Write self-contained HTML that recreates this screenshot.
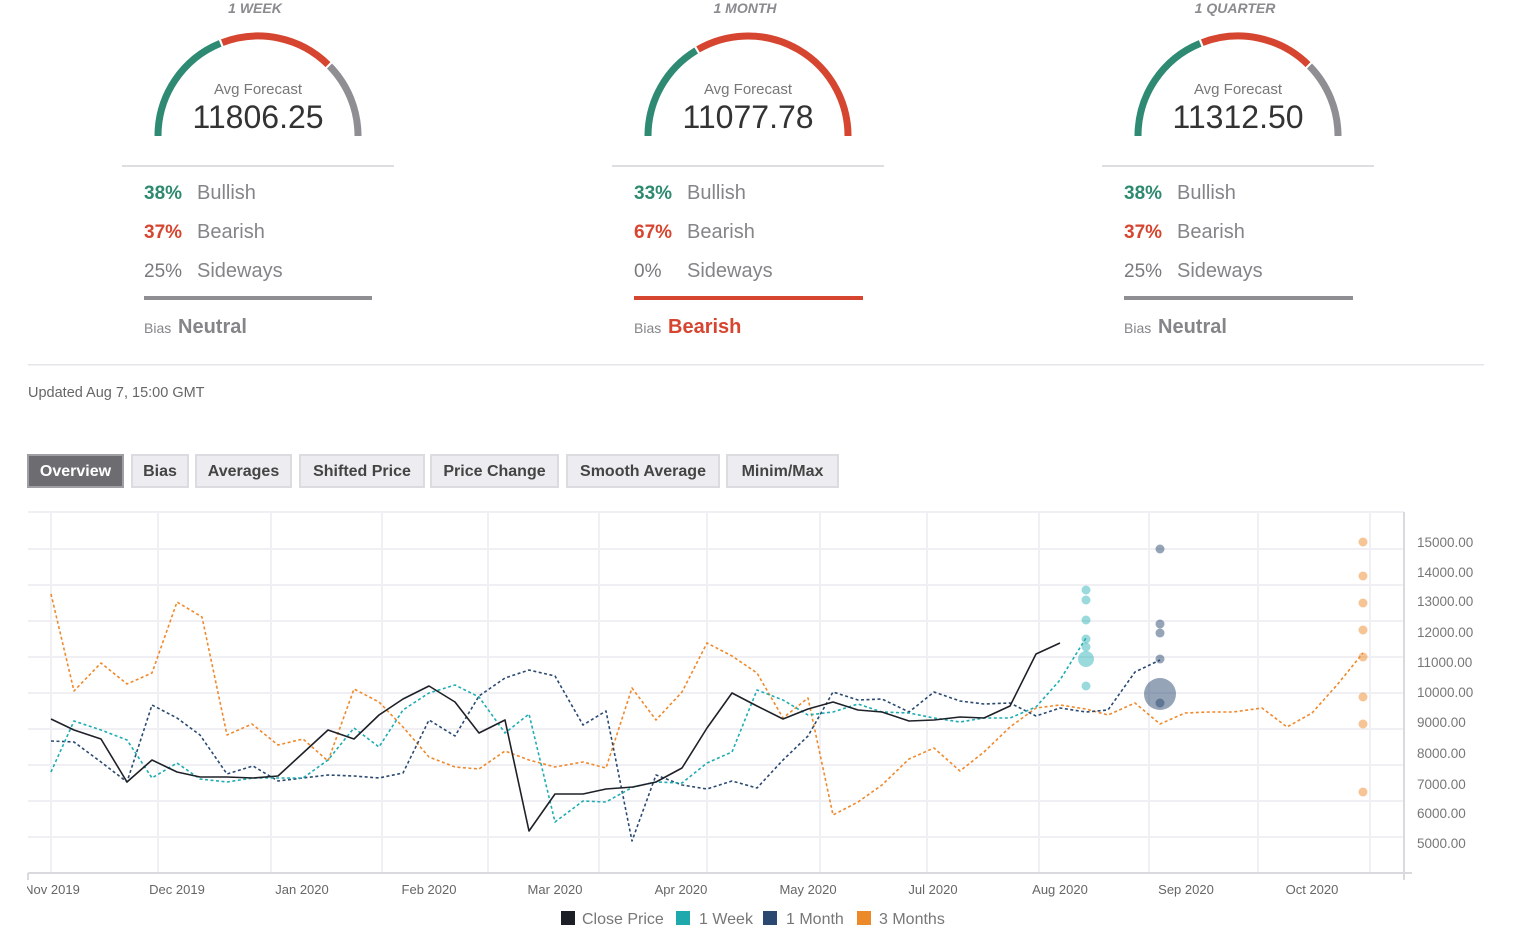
<!DOCTYPE html>
<html><head><meta charset="utf-8"><style>
html,body{margin:0;padding:0;background:#fff;}
body{width:1536px;height:935px;overflow:hidden;position:relative;font-family:"Liberation Sans",Arial,sans-serif;}
svg{position:absolute;left:0;top:0;}
text{font-family:"Liberation Sans",Arial,sans-serif;}
</style></head><body>
<svg width="1536" height="935" viewBox="0 0 1536 935" xmlns="http://www.w3.org/2000/svg">
<defs><clipPath id="lc"><rect x="27" y="870" width="1500" height="40"/></clipPath></defs>

<!-- ===== Gauge 1 WEEK ===== -->
<g>
<text x="255" y="13" text-anchor="middle" font-size="14" font-weight="bold" font-style="italic" fill="#8a8a8f">1 WEEK</text>
<path d="M158 136 A100 100 0 0 1 220.2 43.4" fill="none" stroke="#2e8a72" stroke-width="7"/>
<path d="M222.2 42.6 A100 100 0 0 1 328 64.6" fill="none" stroke="#d6452f" stroke-width="7"/>
<path d="M329.5 66 A100 100 0 0 1 358 136" fill="none" stroke="#8e8e93" stroke-width="7"/>
<text x="258" y="94" text-anchor="middle" font-size="15" fill="#777">Avg Forecast</text>
<text x="258" y="128" text-anchor="middle" font-size="32" fill="#333">11806.25</text>
<rect x="122" y="165" width="272" height="2" fill="#dedee2"/>
<text x="144" y="199" font-size="19" font-weight="bold" fill="#2e8a6e">38%</text>
<text x="197" y="199" font-size="20" fill="#858589">Bullish</text>
<text x="144" y="238" font-size="19" font-weight="bold" fill="#d6452f">37%</text>
<text x="197" y="238" font-size="20" fill="#858589">Bearish</text>
<text x="144" y="277" font-size="19" fill="#7a7a7e">25%</text>
<text x="197" y="277" font-size="20" fill="#858589">Sideways</text>
<rect x="144" y="296" width="228" height="4" fill="#8e8e93"/>
<text x="144" y="333" font-size="14" fill="#858589">Bias</text>
<text x="178" y="333" font-size="20" font-weight="bold" fill="#858589">Neutral</text>
</g>

<!-- ===== Gauge 1 MONTH ===== -->
<g>
<text x="745" y="13" text-anchor="middle" font-size="14" font-weight="bold" font-style="italic" fill="#8a8a8f">1 MONTH</text>
<path d="M648 136 A100 100 0 0 1 696.2 50.5" fill="none" stroke="#2e8a72" stroke-width="7"/>
<path d="M698 49.4 A100 100 0 0 1 848 136" fill="none" stroke="#d6452f" stroke-width="7"/>
<text x="748" y="94" text-anchor="middle" font-size="15" fill="#777">Avg Forecast</text>
<text x="748" y="128" text-anchor="middle" font-size="32" fill="#333">11077.78</text>
<rect x="612" y="165" width="272" height="2" fill="#dedee2"/>
<text x="634" y="199" font-size="19" font-weight="bold" fill="#2e8a6e">33%</text>
<text x="687" y="199" font-size="20" fill="#858589">Bullish</text>
<text x="634" y="238" font-size="19" font-weight="bold" fill="#d6452f">67%</text>
<text x="687" y="238" font-size="20" fill="#858589">Bearish</text>
<text x="634" y="277" font-size="19" fill="#7a7a7e">0%</text>
<text x="687" y="277" font-size="20" fill="#858589">Sideways</text>
<rect x="634" y="296" width="229" height="4" fill="#d6452f"/>
<text x="634" y="333" font-size="14" fill="#858589">Bias</text>
<text x="668" y="333" font-size="20" font-weight="bold" fill="#d6452f">Bearish</text>
</g>

<!-- ===== Gauge 1 QUARTER ===== -->
<g>
<text x="1235" y="13" text-anchor="middle" font-size="14" font-weight="bold" font-style="italic" fill="#8a8a8f">1 QUARTER</text>
<path d="M1138 136 A100 100 0 0 1 1200.2 43.4" fill="none" stroke="#2e8a72" stroke-width="7"/>
<path d="M1202.2 42.6 A100 100 0 0 1 1308 64.6" fill="none" stroke="#d6452f" stroke-width="7"/>
<path d="M1309.5 66 A100 100 0 0 1 1338 136" fill="none" stroke="#8e8e93" stroke-width="7"/>
<text x="1238" y="94" text-anchor="middle" font-size="15" fill="#777">Avg Forecast</text>
<text x="1238" y="128" text-anchor="middle" font-size="32" fill="#333">11312.50</text>
<rect x="1102" y="165" width="272" height="2" fill="#dedee2"/>
<text x="1124" y="199" font-size="19" font-weight="bold" fill="#2e8a6e">38%</text>
<text x="1177" y="199" font-size="20" fill="#858589">Bullish</text>
<text x="1124" y="238" font-size="19" font-weight="bold" fill="#d6452f">37%</text>
<text x="1177" y="238" font-size="20" fill="#858589">Bearish</text>
<text x="1124" y="277" font-size="19" fill="#7a7a7e">25%</text>
<text x="1177" y="277" font-size="20" fill="#858589">Sideways</text>
<rect x="1124" y="296" width="229" height="4" fill="#8e8e93"/>
<text x="1124" y="333" font-size="14" fill="#858589">Bias</text>
<text x="1158" y="333" font-size="20" font-weight="bold" fill="#858589">Neutral</text>
</g>

<rect x="28" y="364" width="1456" height="1.5" fill="#e6e6ea"/>
<text x="28" y="397" font-size="14.5" fill="#666">Updated Aug 7, 15:00 GMT</text>

<!-- ===== Tabs ===== -->
<g font-size="16" font-weight="bold" text-anchor="middle">
<rect x="28" y="455" width="95" height="32" fill="#6c6c71" stroke="#a0a0a4" stroke-width="2"/>
<text x="75.5" y="476" fill="#fff">Overview</text>
<rect x="132" y="455" width="56" height="32" fill="#ededf1" stroke="#dcdce0" stroke-width="2"/>
<text x="160" y="476" fill="#444">Bias</text>
<rect x="196" y="455" width="95" height="32" fill="#ededf1" stroke="#dcdce0" stroke-width="2"/>
<text x="243.5" y="476" fill="#444">Averages</text>
<rect x="300" y="455" width="124" height="32" fill="#ededf1" stroke="#dcdce0" stroke-width="2"/>
<text x="362" y="476" fill="#444">Shifted Price</text>
<rect x="431" y="455" width="127" height="32" fill="#ededf1" stroke="#dcdce0" stroke-width="2"/>
<text x="494.5" y="476" fill="#444">Price Change</text>
<rect x="567" y="455" width="152" height="32" fill="#ededf1" stroke="#dcdce0" stroke-width="2"/>
<text x="643" y="476" fill="#444">Smooth Average</text>
<rect x="727" y="455" width="111" height="32" fill="#ededf1" stroke="#dcdce0" stroke-width="2"/>
<text x="782.5" y="476" fill="#444">Minim/Max</text>
</g>

<!-- ===== Chart grid ===== -->
<g stroke="#efeff4" stroke-width="2">
<line x1="28" y1="512" x2="1404" y2="512"/>
<line x1="28" y1="549" x2="1404" y2="549"/>
<line x1="28" y1="585" x2="1404" y2="585"/>
<line x1="28" y1="621" x2="1404" y2="621"/>
<line x1="28" y1="657" x2="1404" y2="657"/>
<line x1="28" y1="693" x2="1404" y2="693"/>
<line x1="28" y1="729" x2="1404" y2="729"/>
<line x1="28" y1="765" x2="1404" y2="765"/>
<line x1="28" y1="801" x2="1404" y2="801"/>
<line x1="28" y1="837" x2="1404" y2="837"/>
<line x1="51" y1="512" x2="51" y2="873"/>
<line x1="158" y1="512" x2="158" y2="873"/>
<line x1="271" y1="512" x2="271" y2="873"/>
<line x1="382" y1="512" x2="382" y2="873"/>
<line x1="488" y1="512" x2="488" y2="873"/>
<line x1="599" y1="512" x2="599" y2="873"/>
<line x1="707" y1="512" x2="707" y2="873"/>
<line x1="820" y1="512" x2="820" y2="873"/>
<line x1="927" y1="512" x2="927" y2="873"/>
<line x1="1039" y1="512" x2="1039" y2="873"/>
<line x1="1149" y1="512" x2="1149" y2="873"/>
<line x1="1258" y1="512" x2="1258" y2="873"/>
<line x1="1370" y1="512" x2="1370" y2="873"/>
</g>
<g stroke="#d9d9de" stroke-width="2">
<line x1="28" y1="873" x2="1412" y2="873"/>
<line x1="1404" y1="512" x2="1404" y2="880"/>
<line x1="28" y1="873" x2="28" y2="880"/>
</g>

<!-- Y labels -->
<g font-size="13.5" fill="#777">
<text x="1417" y="547">15000.00</text>
<text x="1417" y="577">14000.00</text>
<text x="1417" y="606">13000.00</text>
<text x="1417" y="637">12000.00</text>
<text x="1417" y="667">11000.00</text>
<text x="1417" y="697">10000.00</text>
<text x="1417" y="727">9000.00</text>
<text x="1417" y="758">8000.00</text>
<text x="1417" y="789">7000.00</text>
<text x="1417" y="818">6000.00</text>
<text x="1417" y="848">5000.00</text>
</g>

<!-- X labels -->
<g font-size="13" fill="#666" text-anchor="middle" clip-path="url(#lc)">
<text x="52" y="894">Nov 2019</text>
<text x="177" y="894">Dec 2019</text>
<text x="302" y="894">Jan 2020</text>
<text x="429" y="894">Feb 2020</text>
<text x="555" y="894">Mar 2020</text>
<text x="681" y="894">Apr 2020</text>
<text x="808" y="894">May 2020</text>
<text x="933" y="894">Jul 2020</text>
<text x="1060" y="894">Aug 2020</text>
<text x="1186" y="894">Sep 2020</text>
<text x="1312" y="894">Oct 2020</text>
</g>

<!-- Series -->
<g fill="none" stroke-linejoin="round">
<polyline stroke="#f0892c" stroke-width="1.6" stroke-dasharray="3,2.5" points="51,594 74,691 101,663 127,684 152,673 177,602 202,617 227,735 252,724 278,745 303,739 328,761 354,689 379,702 403,727 429,757 455,767 479,769 505,751 529,760 555,767 583,762 606,768 632,688 656,720 682,692 707,643 732,656 757,673 783,718 808,698 833,815 858,802 882,785 909,759 934,748 960,771 984,752 1010,727 1036,708 1060,705 1086,709 1108,715 1135,703 1160,724 1185,713 1210,712 1233,712 1262,708 1287,727 1312,713 1337,685 1363,653"/>
<polyline stroke="#2b4a70" stroke-width="1.6" stroke-dasharray="3,2.5" points="51,741 74,742 101,762 127,782 152,705 177,718 200,735 227,774 253,766 278,781 303,778 328,775 354,776 379,778 403,773 429,720 455,736 479,696 505,678 529,670 555,676 583,725 606,711 632,841 656,775 682,785 707,789 732,781 757,788 783,760 808,736 833,692 858,700 882,699 909,712 934,692 960,701 984,704 1010,703 1036,716 1060,708 1086,712 1108,710 1135,672 1160,660"/>
<polyline stroke="#1fadb1" stroke-width="1.6" stroke-dasharray="3,2.5" points="51,772 74,721 101,730 127,740 152,778 177,763 200,779 227,782 253,778 278,778 303,778 328,760 354,728 379,747 403,710 429,693 455,685 479,697 505,733 529,714 555,822 583,801 606,802 633,787 656,782 682,783 707,763 732,752 757,690 783,700 808,715 833,712 858,704 882,712 909,713 934,718 960,722 984,718 1010,718 1036,707 1060,680 1086,638"/>
<polyline stroke="#1e2128" stroke-width="1.6" points="51,719 74,730 101,739 127,782 152,760 177,772 200,777 227,777 253,778 278,776 303,753 328,730 354,739 379,715 403,699 429,686 455,702 479,733 505,720 529,831 555,794 583,794 606,789 633,787 656,782 682,768 707,728 732,693 757,706 783,719 808,709 833,702 858,710 882,712 909,721 934,720 960,717 984,718 1010,706 1036,654 1060,643"/>
</g>

<!-- Forecast dots -->
<g fill="#1fadb1" fill-opacity="0.45">
<circle cx="1086" cy="590" r="4.5"/>
<circle cx="1086" cy="600" r="4.5"/>
<circle cx="1086" cy="620" r="4.5"/>
<circle cx="1086" cy="639" r="4.5"/>
<circle cx="1086" cy="647" r="4.5"/>
<circle cx="1086" cy="659" r="8"/>
<circle cx="1086" cy="686" r="4.5"/>
</g>
<g fill="#2b4a70" fill-opacity="0.5">
<circle cx="1160" cy="549" r="4.5"/>
<circle cx="1160" cy="624" r="4.5"/>
<circle cx="1160" cy="633" r="4.5"/>
<circle cx="1160" cy="659" r="4.5"/>
<circle cx="1160" cy="694" r="16"/>
<circle cx="1160" cy="703" r="4.5"/>
</g>
<g fill="#f0892c" fill-opacity="0.5">
<circle cx="1363" cy="542" r="4.5"/>
<circle cx="1363" cy="576" r="4.5"/>
<circle cx="1363" cy="603" r="4.5"/>
<circle cx="1363" cy="630" r="4.5"/>
<circle cx="1363" cy="657" r="4.5"/>
<circle cx="1363" cy="697" r="4.5"/>
<circle cx="1363" cy="724" r="4.5"/>
<circle cx="1363" cy="792" r="4.5"/>
</g>

<!-- Legend -->
<g font-size="16" fill="#777">
<rect x="561" y="911" width="14" height="14" fill="#1c1f26"/>
<text x="582" y="924">Close Price</text>
<rect x="676" y="911" width="14" height="14" fill="#1fa9ad"/>
<text x="699" y="924">1 Week</text>
<rect x="763" y="911" width="14" height="14" fill="#2b4870"/>
<text x="786" y="924">1 Month</text>
<rect x="857" y="911" width="14" height="14" fill="#ec8a2a"/>
<text x="879" y="924">3 Months</text>
</g>
</svg>
</body></html>
